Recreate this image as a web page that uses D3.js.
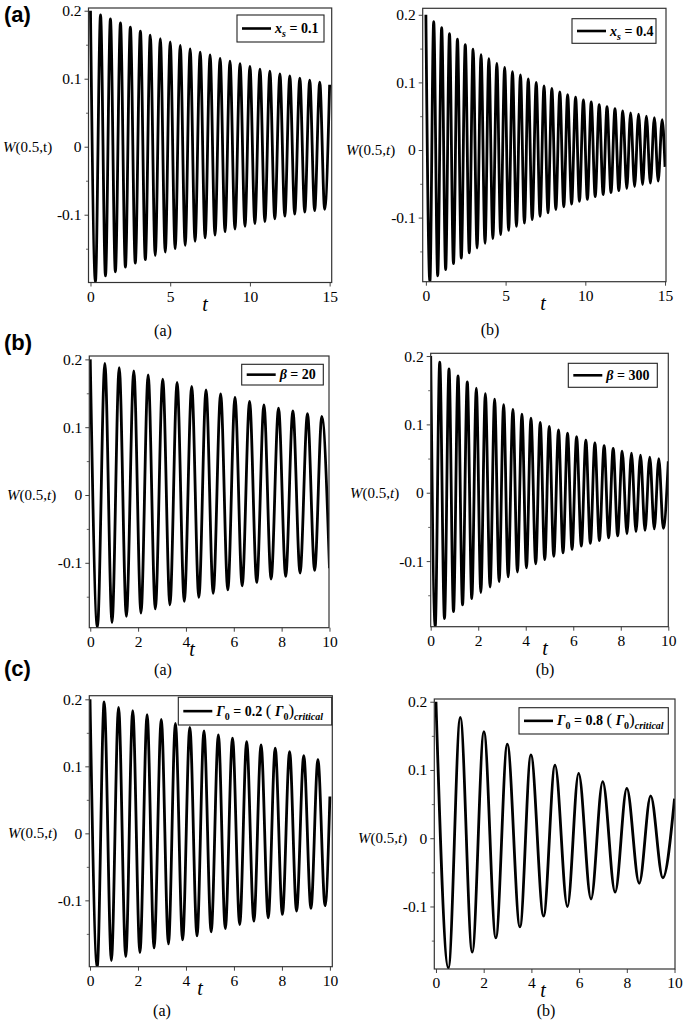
<!DOCTYPE html>
<html><head><meta charset="utf-8">
<script src="https://cdn.jsdelivr.net/npm/d3@7"></script>
<style>body{margin:0;background:#fff} svg{display:block}</style>
</head><body>
<svg id="c" width="685" height="1021"></svg>
<script>
// ---------- data (extrema of W(0.5,t)) ----------
const yTickValues = [-0.1, 0, 0.1, 0.2];
const yTickLabels = ["-0.1", "0", "0.1", "0.2"];
const yMinorTicks = [-0.15, -0.05, 0.05, 0.15];
const xTicks15 = [0, 5, 10, 15];
const xTicks10 = [0, 2, 4, 6, 8, 10];
const groupLabels = ["(a)", "(b)", "(c)"];
const captions = ["(a)", "(b)", "(a)", "(b)", "(a)", "(b)"];

// panel 1: x_s = 0.1
const t1 = [0,0.31,0.63,0.94,1.25,1.56,1.88,2.19,2.5,2.81,3.13,3.44,3.75,4.06,4.38,4.69,5,5.31,5.63,5.94,6.25,6.56,6.88,7.19,7.5,7.81,8.13,8.44,8.75,9.06,9.38,9.69,10,10.31,10.63,10.94,11.25,11.56,11.88,12.19,12.5,12.81,13.13,13.44,13.75,14.06,14.38,14.69,15];
const w1 = [.200,-.199,.194,-.190,.188,-.184,.182,-.177,.176,-.171,.170,-.166,.164,-.160,.159,-.155,.154,-.150,.149,-.145,.144,-.139,.139,-.134,.135,-.130,.130,-.125,.126,-.121,.122,-.117,.118,-.113,.114,-.110,.111,-.106,.107,-.102,.104,-.099,.101,-.096,.098,-.094,.095,-.092,.091];
// panel 2: x_s = 0.4
const t2 = [0,.25,.49,.74,.99,1.24,1.48,1.73,1.98,2.22,2.47,2.72,2.96,3.21,3.46,3.71,3.95,4.2,4.45,4.69,4.94,5.19,5.43,5.68,5.93,6.18,6.42,6.67,6.92,7.16,7.41,7.66,7.9,8.15,8.4,8.65,8.89,9.14,9.39,9.63,9.88,10.13,10.37,10.62,10.87,11.12,11.36,11.61,11.86,12.1,12.35,12.6,12.84,13.09,13.34,13.59,13.83,14.08,14.33,14.57,14.82,15];
const w2 = [.200,-.195,.190,-.186,.181,-.177,.172,-.168,.164,-.160,.156,-.152,.149,-.145,.141,-.138,.135,-.131,.128,-.125,.122,-.119,.116,-.113,.111,-.108,.105,-.103,.100,-.098,.095,-.093,.091,-.088,.086,-.084,.082,-.080,.078,-.076,.074,-.073,.071,-.069,.067,-.066,.064,-.063,.061,-.060,.058,-.057,.055,-.054,.053,-.051,.050,-.049,.048,-.046,.045,-.025];
// panel 3: beta = 20
const t3 = [0,.30,.61,.91,1.21,1.51,1.82,2.12,2.42,2.72,3.03,3.33,3.63,3.93,4.24,4.54,4.84,5.14,5.45,5.75,6.05,6.35,6.66,6.96,7.26,7.56,7.87,8.17,8.47,8.77,9.08,9.38,9.68,10.0];
const w3 = [.200,-.195,.194,-.188,.188,-.179,.183,-.174,.177,-.168,.171,-.162,.166,-.157,.160,-.151,.155,-.145,.149,-.140,.144,-.134,.138,-.129,.133,-.124,.128,-.120,.124,-.115,.120,-.111,.116,-.108];
// panel 4: beta = 300
const t4 = [0,.19,.38,.58,.77,.96,1.15,1.34,1.54,1.73,1.92,2.11,2.3,2.5,2.69,2.88,3.07,3.26,3.46,3.65,3.84,4.03,4.22,4.42,4.61,4.8,4.99,5.18,5.38,5.57,5.76,5.95,6.14,6.34,6.53,6.72,6.91,7.1,7.3,7.49,7.68,7.87,8.06,8.26,8.45,8.64,8.83,9.02,9.22,9.41,9.6,9.79,10.0];
const w4 = [.200,-.196,.191,-.184,.181,-.174,.171,-.164,.162,-.155,.153,-.146,.145,-.138,.137,-.130,.129,-.123,.122,-.116,.115,-.110,.109,-.104,.103,-.098,.097,-.093,.092,-.088,.087,-.083,.082,-.078,.077,-.074,.073,-.070,.069,-.066,.065,-.063,.061,-.060,.058,-.057,.055,-.055,.052,-.053,.050,-.052,.046];
// panel 5: Gamma0 = 0.2 (Gamma0)critical
const t5 = [0,.30,.59,.89,1.19,1.49,1.78,2.08,2.38,2.67,2.97,3.27,3.56,3.86,4.16,4.46,4.75,5.05,5.35,5.64,5.94,6.24,6.53,6.83,7.13,7.43,7.72,8.02,8.32,8.61,8.91,9.21,9.5,9.8,10.0];
const w5 = [.200,-.199,.196,-.190,.188,-.184,.183,-.178,.177,-.171,.170,-.165,.164,-.159,.158,-.153,.153,-.147,.147,-.142,.142,-.136,.137,-.131,.132,-.126,.127,-.121,.122,-.116,.116,-.112,.110,-.108,.055];
// panel 6: Gamma0 = 0.8 (Gamma0)critical
const t6 = [0,.52,1.02,1.52,2.01,2.51,2.99,3.52,3.98,4.51,4.99,5.51,5.98,6.5,6.99,7.51,8.0,8.52,9.0,9.51,10.0];
const w6 = [.200,-.190,.177,-.167,.156,-.146,.138,-.130,.122,-.114,.107,-.100,.095,-.089,.083,-.079,.073,-.066,.062,-.058,.058];

// legend texts: parts [text, italic, sub, bigger]
const legend1 = [["x",1,0],["s",1,1],[" = 0.1",0,0]];
const legend2 = [["x",1,0],["s",1,1],[" = 0.4",0,0]];
const legend3 = [["β",1,0],[" = 20",0,0]];
const legend4 = [["β",1,0],[" = 300",0,0]];
const legend5 = [["Γ",1,0],["0",0,1],[" = 0.2 ",0,0],["(",0,0,1],[" Γ",1,0],["0",0,1],[")",0,0,1],["critical",1,1]];
const legend6 = [["Γ",1,0],["0",0,1],[" = 0.8 ",0,0],["(",0,0,1],[" Γ",1,0],["0",0,1],[")",0,0,1],["critical",1,1]];

// ---------- layout ----------
const serif = '"Liberation Serif","Times New Roman",serif';
const sans = '"Liberation Sans",Arial,sans-serif';
const panels = [
  {t:t1,w:w1,L:88.5,T:8,R:331.7,B:282.5,xd:[-0.125,15.13],yd:[-0.1997,0.204],xt:xTicks15,tX:205,wX:3,tIt:false,cap:captions[0],capX:163,capY:336,leg:legend1,lb:[237,15,324,42]},
  {t:t2,w:w2,L:422.7,T:8.3,R:666,B:281.7,xd:[-0.2,15.06],yd:[-0.1948,0.2096],xt:xTicks15,tX:543,wX:346,tIt:true,cap:captions[1],capX:490,capY:335,leg:legend2,lb:[572,18.7,656,43.3]},
  {t:t3,w:w3,L:89.3,T:356,R:329,B:627.7,xd:[-0.04,9.98],yd:[-0.1957,0.205],xt:xTicks10,tX:192,wX:7,tIt:true,cap:captions[2],capX:163,capY:675,leg:legend3,lb:[241.7,364.3,323.3,385]},
  {t:t4,w:w4,L:430.7,T:353.3,R:668.3,B:626.7,xd:[0,10],yd:[-0.196,0.204],xt:xTicks10,tX:545,wX:350,tIt:true,cap:captions[3],capX:545,capY:675,leg:legend4,lb:[568.3,363.3,657.3,387.3]},
  {t:t5,w:w5,L:89.3,T:695.7,R:332.3,B:966.7,xd:[-0.03,10.1],yd:[-0.199,0.2054],xt:xTicks10,tX:200,wX:8,tIt:true,cap:captions[4],capX:162,capY:1016,leg:legend5,lb:[178.3,697.3,331.7,725]},
  {t:t6,w:w6,L:434.3,T:699,R:675,B:969,xd:[-0.07,10.02],yd:[-0.1916,0.204],xt:xTicks10,tX:543,wX:358,tIt:true,cap:captions[5],capX:546,capY:1016,leg:legend6,lb:[519,707.7,668.3,734]}
];
const groupPos = [[4,22],[4,350],[4,676]];

const svg = d3.select('#c');
svg.append('rect').attr('width',685).attr('height',1021).attr('fill','#fff');

groupLabels.forEach((g,i)=>{
  svg.append('text').attr('x',groupPos[i][0]).attr('y',groupPos[i][1])
    .style('font-family',sans).attr('font-weight','bold').attr('font-size',22).text(g);
});

panels.forEach((p,i)=>{
  const x = d3.scaleLinear().domain(p.xd).range([p.L,p.R]);
  const y = d3.scaleLinear().domain(p.yd).range([p.B,p.T]);
  const g = svg.append('g');
  const cid = 'clip'+i;
  svg.append('clipPath').attr('id',cid).append('rect')
    .attr('x',p.L).attr('y',p.T).attr('width',p.R-p.L).attr('height',p.B-p.T);

  const pts = d3.zip(p.t,p.w);
  const line = d3.line().x(d=>x(d[0])).y(d=>y(d[1])).curve(d3.curveMonotoneX);
  g.append('path').datum(pts).attr('d',line).attr('fill','none')
    .attr('stroke','#000').attr('stroke-width',2.8).attr('stroke-linejoin','round')
    .attr('clip-path',`url(#${cid})`);

  // x axis (bottom)
  const xa = d3.axisBottom(x).tickValues(p.xt).tickSize(4).tickPadding(4).tickFormat(d3.format('d'));
  const gx = g.append('g').attr('transform',`translate(0,${p.B})`).call(xa);
  gx.select('.domain').remove();
  gx.selectAll('line').attr('stroke','#444');
  gx.selectAll('text').style('font-family',serif).style('font-size','15.5px').attr('fill','#000');

  // y axis (left)
  const ya = d3.axisLeft(y).tickValues(yTickValues).tickSize(4).tickPadding(3)
    .tickFormat((d,k)=>yTickLabels[k]);
  const gy = g.append('g').attr('transform',`translate(${p.L},0)`).call(ya);
  gy.select('.domain').remove();
  gy.selectAll('line').attr('stroke','#444');
  gy.selectAll('text').style('font-family',serif).style('font-size','15.5px').attr('fill','#000');
  const ym = d3.axisLeft(y).tickValues(yMinorTicks).tickSize(2.5).tickFormat('');
  const gym = g.append('g').attr('transform',`translate(${p.L},0)`).call(ym);
  gym.select('.domain').remove();
  gym.selectAll('line').attr('stroke','#666');

  // frame
  g.append('rect').attr('x',p.L).attr('y',p.T).attr('width',p.R-p.L).attr('height',p.B-p.T)
    .attr('fill','none').attr('stroke','#333').attr('stroke-width',1.2);

  // axis titles
  g.append('text').attr('x',p.tX).attr('y',p.B+28).style('font-family',serif)
    .attr('font-style','italic').attr('font-size',20).attr('text-anchor','middle').text('t');
  const wl = g.append('text').attr('x',p.wX).attr('y',y(0)+5).style('font-family',serif).attr('font-size',15);
  wl.append('tspan').attr('font-style','italic').text('W');
  wl.append('tspan').text('(0.5,');
  wl.append('tspan').attr('font-style',p.tIt?'italic':'normal').text('t');
  wl.append('tspan').text(')');

  // caption
  g.append('text').attr('x',p.capX).attr('y',p.capY).style('font-family',serif)
    .attr('font-size',16).attr('text-anchor','middle').text(p.cap);

  // legend
  const [bx0,by0,bx1,by1] = p.lb;
  g.append('rect').attr('x',bx0).attr('y',by0).attr('width',bx1-bx0).attr('height',by1-by0)
    .attr('fill','#fff').attr('stroke','#222').attr('stroke-width',1.1);
  const my = (by0+by1)/2;
  g.append('line').attr('x1',bx0+5).attr('x2',bx0+34).attr('y1',my).attr('y2',my)
    .attr('stroke','#000').attr('stroke-width',2.6);
  const lt = g.append('text').attr('x',bx0+38).attr('y',my+4.5).style('font-family',serif)
    .attr('font-weight','bold').attr('font-size',14);
  let subOn = false;
  p.leg.forEach(part=>{
    const [txt,it,sub,big] = part;
    const ts = lt.append('tspan').text(txt).attr('font-style',it?'italic':'normal');
    if(sub && !subOn){ ts.attr('dy',4).attr('font-size',10); subOn=true; }
    else if(sub){ ts.attr('font-size',10); }
    else if(!sub && subOn){ ts.attr('dy',-4); subOn=false; }
    if(big){ ts.attr('font-size',17).attr('font-weight','normal'); }
  });
});
</script>
</body></html>
